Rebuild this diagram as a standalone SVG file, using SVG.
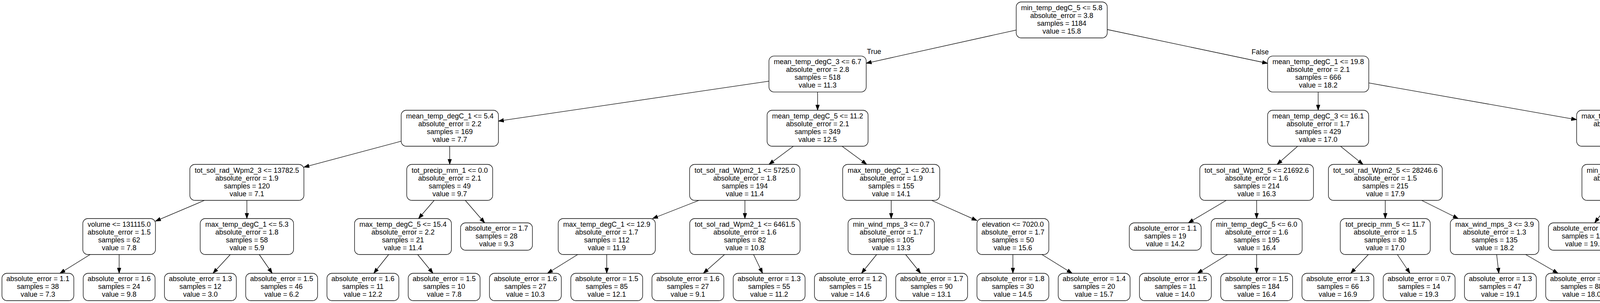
<svg xmlns="http://www.w3.org/2000/svg" width="5095" height="775" viewBox="0 0 5095 775">
<defs>
<style>
.n rect{fill:#fff;stroke:#000;stroke-width:1.33}
text{font-family:"Liberation Sans",Arial,Helvetica,sans-serif;font-size:18px;text-anchor:middle;fill:#000}
.edges line{stroke:#000;stroke-width:1.33;marker-end:url(#ah)}
</style>
<marker id="ah" markerUnits="userSpaceOnUse" viewBox="0 0 15 11" markerWidth="15" markerHeight="11" refX="13.8" refY="5.2" orient="auto"><path d="M0.5,0.5 L13.8,5.2 L0.5,9.9 z" fill="#000" stroke="#000" stroke-width="1"/></marker>
</defs>
<rect x="0" y="0" width="5095" height="775" fill="#fff"/>
<g class="edges" id="edges">
<line x1="2601.5" y1="76.8" x2="2217.5" y2="161.8"/>
<line x1="2834.5" y1="75.5" x2="3245.1" y2="162"/>
<line x1="1968.5" y1="207.6" x2="1276" y2="309.7"/>
<line x1="2093" y1="235.3" x2="2093" y2="282"/>
<line x1="3374.5" y1="235.3" x2="3374.5" y2="282"/>
<line x1="3504.1" y1="212.2" x2="4036.2" y2="306.1"/>
<line x1="1027" y1="361.2" x2="778" y2="427.6"/>
<line x1="1151.3" y1="374" x2="1151.3" y2="420.5"/>
<line x1="2031.1" y1="374" x2="1968.5" y2="420.5"/>
<line x1="2155.6" y1="374" x2="2218.9" y2="420.5"/>
<line x1="3322.1" y1="374" x2="3269.3" y2="420.5"/>
<line x1="3431.6" y1="374" x2="3489.3" y2="420.5"/>
<line x1="4160" y1="374" x2="4160" y2="420.5"/>
<line x1="4281.7" y1="374" x2="4405.5" y2="420.8"/>
<line x1="523.4" y1="512.5" x2="398" y2="565.6"/>
<line x1="632" y1="512.5" x2="632" y2="559"/>
<line x1="1111.5" y1="512.5" x2="1071.4" y2="559"/>
<line x1="1191.1" y1="512.5" x2="1240.8" y2="570"/>
<line x1="1789.3" y1="512.5" x2="1670.6" y2="559"/>
<line x1="1907" y1="512.5" x2="1907" y2="559"/>
<line x1="2281.5" y1="512.5" x2="2281.5" y2="559"/>
<line x1="2384.9" y1="512.5" x2="2501" y2="564.1"/>
<line x1="3139.3" y1="512.5" x2="3042.1" y2="570"/>
<line x1="3217" y1="512.5" x2="3217" y2="559"/>
<line x1="3546.3" y1="512.5" x2="3546.3" y2="559"/>
<line x1="3639.4" y1="512.5" x2="3733.2" y2="559"/>
<line x1="4125.5" y1="512.5" x2="4082.3" y2="570"/>
<line x1="4194.5" y1="512.5" x2="4237.7" y2="570"/>
<line x1="4526.3" y1="512.5" x2="4526.3" y2="559"/>
<line x1="4619.8" y1="512.5" x2="4714" y2="559"/>
<line x1="230.8" y1="651" x2="153.4" y2="699"/>
<line x1="305" y1="651" x2="305" y2="699"/>
<line x1="589.6" y1="651" x2="545.3" y2="699"/>
<line x1="663.7" y1="651" x2="696.9" y2="699"/>
<line x1="995" y1="651" x2="956.8" y2="699"/>
<line x1="1069.2" y1="651" x2="1108.4" y2="699"/>
<line x1="1479" y1="651" x2="1401.5" y2="699"/>
<line x1="1553.3" y1="651" x2="1553.3" y2="699"/>
<line x1="1854.9" y1="651" x2="1800.6" y2="699"/>
<line x1="1929.1" y1="651" x2="1952.2" y2="699"/>
<line x1="2244.2" y1="651" x2="2205.4" y2="699"/>
<line x1="2318.4" y1="651" x2="2356.9" y2="699"/>
<line x1="2593" y1="651" x2="2593" y2="699"/>
<line x1="2667.2" y1="651" x2="2744.6" y2="699"/>
<line x1="3142.8" y1="651" x2="3065.4" y2="699"/>
<line x1="3217" y1="651" x2="3217" y2="699"/>
<line x1="3503" y1="651" x2="3457.9" y2="699"/>
<line x1="3577.2" y1="651" x2="3609.5" y2="699"/>
<line x1="3831.4" y1="651" x2="3837" y2="699"/>
<line x1="3905.6" y1="651" x2="3988.5" y2="699"/>
<line x1="4458.6" y1="651" x2="4388.3" y2="699"/>
<line x1="4532.8" y1="651" x2="4539.8" y2="699"/>
<line x1="4800.8" y1="651" x2="4794" y2="699"/>
<line x1="4874.9" y1="651" x2="4945.5" y2="699"/>
<text x="2237.5" y="138">True</text>
<text x="3226" y="139">False</text>
</g>
<g class="n" id="n0" transform="translate(2718,51)"><rect x="-116.5" y="-46" width="233" height="92" rx="13"/><text y="-25">min_temp_degC_5 &lt;= 5.8</text><text y="-5">absolute_error = 3.8</text><text y="15">samples = 1184</text><text y="35">value = 15.8</text></g>
<g class="n" id="n1" transform="translate(2093,189.3)"><rect x="-124.5" y="-46" width="249" height="92" rx="13"/><text y="-25">mean_temp_degC_3 &lt;= 6.7</text><text y="-5">absolute_error = 2.8</text><text y="15">samples = 518</text><text y="35">value = 11.3</text></g>
<g class="n" id="n2" transform="translate(3374.6,189.3)"><rect x="-129.5" y="-46" width="259" height="92" rx="13"/><text y="-25">mean_temp_degC_1 &lt;= 19.8</text><text y="-5">absolute_error = 2.1</text><text y="15">samples = 666</text><text y="35">value = 18.2</text></g>
<g class="n" id="n3" transform="translate(1151.5,328)"><rect x="-124.5" y="-46" width="249" height="92" rx="13"/><text y="-25">mean_temp_degC_1 &lt;= 5.4</text><text y="-5">absolute_error = 2.2</text><text y="15">samples = 169</text><text y="35">value = 7.7</text></g>
<g class="n" id="n4" transform="translate(2093,328)"><rect x="-129.3" y="-46" width="258.6" height="92" rx="13"/><text y="-25">mean_temp_degC_5 &lt;= 11.2</text><text y="-5">absolute_error = 2.1</text><text y="15">samples = 349</text><text y="35">value = 12.5</text></g>
<g class="n" id="n5" transform="translate(3374.4,328)"><rect x="-129.3" y="-46" width="258.6" height="92" rx="13"/><text y="-25">mean_temp_degC_3 &lt;= 16.1</text><text y="-5">absolute_error = 1.7</text><text y="15">samples = 429</text><text y="35">value = 17.0</text></g>
<g class="n" id="n6" transform="translate(4160,328)"><rect x="-123.8" y="-46" width="247.6" height="92" rx="13"/><text y="-25">max_temp_degC_5 &lt;= 31.0</text><text y="-5">absolute_error = 1.4</text><text y="15">samples = 237</text><text y="35">value = 20.3</text></g>
<g class="n" id="n7" transform="translate(632,466.5)"><rect x="-146" y="-46" width="292" height="92" rx="13"/><text y="-25">tot_sol_rad_Wpm2_3 &lt;= 13782.5</text><text y="-5">absolute_error = 1.9</text><text y="15">samples = 120</text><text y="35">value = 7.1</text></g>
<g class="n" id="n8" transform="translate(1151.3,466.5)"><rect x="-110" y="-46" width="220" height="92" rx="13"/><text y="-25">tot_precip_mm_1 &lt;= 0.0</text><text y="-5">absolute_error = 2.1</text><text y="15">samples = 49</text><text y="35">value = 9.7</text></g>
<g class="n" id="n9" transform="translate(1906.6,466.5)"><rect x="-141.2" y="-46" width="282.4" height="92" rx="13"/><text y="-25">tot_sol_rad_Wpm2_1 &lt;= 5725.0</text><text y="-5">absolute_error = 1.8</text><text y="15">samples = 194</text><text y="35">value = 11.4</text></g>
<g class="n" id="n10" transform="translate(2281.5,466.5)"><rect x="-124.2" y="-46" width="248.4" height="92" rx="13"/><text y="-25">max_temp_degC_1 &lt;= 20.1</text><text y="-5">absolute_error = 1.9</text><text y="15">samples = 155</text><text y="35">value = 14.1</text></g>
<g class="n" id="n11" transform="translate(3217,466.5)"><rect x="-145.5" y="-46" width="291" height="92" rx="13"/><text y="-25">tot_sol_rad_Wpm2_5 &lt;= 21692.6</text><text y="-5">absolute_error = 1.6</text><text y="15">samples = 214</text><text y="35">value = 16.3</text></g>
<g class="n" id="n12" transform="translate(3546.5,466.5)"><rect x="-145.8" y="-46" width="291.6" height="92" rx="13"/><text y="-25">tot_sol_rad_Wpm2_5 &lt;= 28246.6</text><text y="-5">absolute_error = 1.5</text><text y="15">samples = 215</text><text y="35">value = 17.9</text></g>
<g class="n" id="n13" transform="translate(4160,466.5)"><rect x="-110.3" y="-46" width="220.6" height="92" rx="13"/><text y="-25">min_wind_mps_5 &lt;= 1.3</text><text y="-5">absolute_error = 1.3</text><text y="15">samples = 135</text><text y="35">value = 19.8</text></g>
<g class="n" id="n14" transform="translate(4526.5,466.5)"><rect x="-121" y="-46" width="242" height="92" rx="13"/><text y="-25">min_temp_degC_5 &lt;= 16.8</text><text y="-5">absolute_error = 1.3</text><text y="15">samples = 102</text><text y="35">value = 21.0</text></g>
<g class="n" id="n15" transform="translate(305,605)"><rect x="-93" y="-46" width="186" height="92" rx="13"/><text y="-25">volume &lt;= 131115.0</text><text y="-5">absolute_error = 1.5</text><text y="15">samples = 62</text><text y="35">value = 7.8</text></g>
<g class="n" id="n16" transform="translate(632,605)"><rect x="-119.5" y="-46" width="239" height="92" rx="13"/><text y="-25">max_temp_degC_1 &lt;= 5.3</text><text y="-5">absolute_error = 1.8</text><text y="15">samples = 58</text><text y="35">value = 5.9</text></g>
<g class="n" id="n17" transform="translate(1031.6,605)"><rect x="-124" y="-46" width="248" height="92" rx="13"/><text y="-25">max_temp_degC_5 &lt;= 15.4</text><text y="-5">absolute_error = 2.2</text><text y="15">samples = 21</text><text y="35">value = 11.4</text></g>
<g class="n" id="n18" transform="translate(1271,605)"><rect x="-92" y="-35" width="184" height="70" rx="13"/><text y="-15">absolute_error = 1.7</text><text y="5">samples = 28</text><text y="25">value = 9.3</text></g>
<g class="n" id="n19" transform="translate(1553.3,605)"><rect x="-124.3" y="-46" width="248.6" height="92" rx="13"/><text y="-25">max_temp_degC_1 &lt;= 12.9</text><text y="-5">absolute_error = 1.7</text><text y="15">samples = 112</text><text y="35">value = 11.9</text></g>
<g class="n" id="n20" transform="translate(1907,605)"><rect x="-141.3" y="-46" width="282.6" height="92" rx="13"/><text y="-25">tot_sol_rad_Wpm2_1 &lt;= 6461.5</text><text y="-5">absolute_error = 1.6</text><text y="15">samples = 82</text><text y="35">value = 10.8</text></g>
<g class="n" id="n21" transform="translate(2281.5,605)"><rect x="-110.5" y="-46" width="221" height="92" rx="13"/><text y="-25">min_wind_mps_3 &lt;= 0.7</text><text y="-5">absolute_error = 1.7</text><text y="15">samples = 105</text><text y="35">value = 13.3</text></g>
<g class="n" id="n22" transform="translate(2593,605)"><rect x="-92" y="-46" width="184" height="92" rx="13"/><text y="-25">elevation &lt;= 7020.0</text><text y="-5">absolute_error = 1.7</text><text y="15">samples = 50</text><text y="35">value = 15.6</text></g>
<g class="n" id="n23" transform="translate(2983,605)"><rect x="-92" y="-35" width="184" height="70" rx="13"/><text y="-15">absolute_error = 1.1</text><text y="5">samples = 19</text><text y="25">value = 14.2</text></g>
<g class="n" id="n24" transform="translate(3217,605)"><rect x="-116.5" y="-46" width="233" height="92" rx="13"/><text y="-25">min_temp_degC_5 &lt;= 6.0</text><text y="-5">absolute_error = 1.6</text><text y="15">samples = 195</text><text y="35">value = 16.4</text></g>
<g class="n" id="n25" transform="translate(3546.3,605)"><rect x="-115.2" y="-46" width="230.4" height="92" rx="13"/><text y="-25">tot_precip_mm_5 &lt;= 11.7</text><text y="-5">absolute_error = 1.5</text><text y="15">samples = 80</text><text y="35">value = 17.0</text></g>
<g class="n" id="n26" transform="translate(3826.1,605)"><rect x="-113.3" y="-46" width="226.6" height="92" rx="13"/><text y="-25">max_wind_mps_3 &lt;= 3.9</text><text y="-5">absolute_error = 1.3</text><text y="15">samples = 135</text><text y="35">value = 18.2</text></g>
<g class="n" id="n27" transform="translate(4056,605)"><rect x="-92" y="-35" width="184" height="70" rx="13"/><text y="-15">absolute_error = 1.2</text><text y="5">samples = 118</text><text y="25">value = 19.9</text></g>
<g class="n" id="n28" transform="translate(4264,605)"><rect x="-92" y="-35" width="184" height="70" rx="13"/><text y="-15">absolute_error = 1.0</text><text y="5">samples = 17</text><text y="25">value = 18.0</text></g>
<g class="n" id="n29" transform="translate(4526,605)"><rect x="-146" y="-46" width="292" height="92" rx="13"/><text y="-25">tot_sol_rad_Wpm2_5 &lt;= 36376.7</text><text y="-5">absolute_error = 1.3</text><text y="15">samples = 68</text><text y="35">value = 20.8</text></g>
<g class="n" id="n30" transform="translate(4807.3,605)"><rect x="-110.3" y="-46" width="220.6" height="92" rx="13"/><text y="-25">min_wind_mps_1 &lt;= 1.1</text><text y="-5">absolute_error = 1.0</text><text y="15">samples = 34</text><text y="35">value = 21.7</text></g>
<g class="n" id="l1" transform="translate(97,734)"><rect x="-92" y="-35" width="184" height="70" rx="13"/><text y="-15">absolute_error = 1.1</text><text y="5">samples = 38</text><text y="25">value = 7.3</text></g>
<g class="n" id="l2" transform="translate(305,734)"><rect x="-92" y="-35" width="184" height="70" rx="13"/><text y="-15">absolute_error = 1.6</text><text y="5">samples = 24</text><text y="25">value = 9.8</text></g>
<g class="n" id="l3" transform="translate(513,734)"><rect x="-92" y="-35" width="184" height="70" rx="13"/><text y="-15">absolute_error = 1.3</text><text y="5">samples = 12</text><text y="25">value = 3.0</text></g>
<g class="n" id="l4" transform="translate(721,734)"><rect x="-92" y="-35" width="184" height="70" rx="13"/><text y="-15">absolute_error = 1.5</text><text y="5">samples = 46</text><text y="25">value = 6.2</text></g>
<g class="n" id="l5" transform="translate(929,734)"><rect x="-92" y="-35" width="184" height="70" rx="13"/><text y="-15">absolute_error = 1.6</text><text y="5">samples = 11</text><text y="25">value = 12.2</text></g>
<g class="n" id="l6" transform="translate(1137,734)"><rect x="-92" y="-35" width="184" height="70" rx="13"/><text y="-15">absolute_error = 1.5</text><text y="5">samples = 10</text><text y="25">value = 7.8</text></g>
<g class="n" id="l7" transform="translate(1345,734)"><rect x="-92" y="-35" width="184" height="70" rx="13"/><text y="-15">absolute_error = 1.6</text><text y="5">samples = 27</text><text y="25">value = 10.3</text></g>
<g class="n" id="l8" transform="translate(1553.3,734)"><rect x="-92" y="-35" width="184" height="70" rx="13"/><text y="-15">absolute_error = 1.5</text><text y="5">samples = 85</text><text y="25">value = 12.1</text></g>
<g class="n" id="l9" transform="translate(1761,734)"><rect x="-92" y="-35" width="184" height="70" rx="13"/><text y="-15">absolute_error = 1.6</text><text y="5">samples = 27</text><text y="25">value = 9.1</text></g>
<g class="n" id="l10" transform="translate(1969,734)"><rect x="-92" y="-35" width="184" height="70" rx="13"/><text y="-15">absolute_error = 1.3</text><text y="5">samples = 55</text><text y="25">value = 11.2</text></g>
<g class="n" id="l11" transform="translate(2177,734)"><rect x="-92" y="-35" width="184" height="70" rx="13"/><text y="-15">absolute_error = 1.2</text><text y="5">samples = 15</text><text y="25">value = 14.6</text></g>
<g class="n" id="l12" transform="translate(2385,734)"><rect x="-92" y="-35" width="184" height="70" rx="13"/><text y="-15">absolute_error = 1.7</text><text y="5">samples = 90</text><text y="25">value = 13.1</text></g>
<g class="n" id="l13" transform="translate(2593,734)"><rect x="-92" y="-35" width="184" height="70" rx="13"/><text y="-15">absolute_error = 1.8</text><text y="5">samples = 30</text><text y="25">value = 14.5</text></g>
<g class="n" id="l14" transform="translate(2801,734)"><rect x="-92" y="-35" width="184" height="70" rx="13"/><text y="-15">absolute_error = 1.4</text><text y="5">samples = 20</text><text y="25">value = 15.7</text></g>
<g class="n" id="l15" transform="translate(3009,734)"><rect x="-92" y="-35" width="184" height="70" rx="13"/><text y="-15">absolute_error = 1.5</text><text y="5">samples = 11</text><text y="25">value = 14.0</text></g>
<g class="n" id="l16" transform="translate(3217,734)"><rect x="-92" y="-35" width="184" height="70" rx="13"/><text y="-15">absolute_error = 1.5</text><text y="5">samples = 184</text><text y="25">value = 16.4</text></g>
<g class="n" id="l17" transform="translate(3425,734)"><rect x="-92" y="-35" width="184" height="70" rx="13"/><text y="-15">absolute_error = 1.3</text><text y="5">samples = 66</text><text y="25">value = 16.9</text></g>
<g class="n" id="l18" transform="translate(3633,734)"><rect x="-92" y="-35" width="184" height="70" rx="13"/><text y="-15">absolute_error = 0.7</text><text y="5">samples = 14</text><text y="25">value = 19.3</text></g>
<g class="n" id="l19" transform="translate(3841,734)"><rect x="-92" y="-35" width="184" height="70" rx="13"/><text y="-15">absolute_error = 1.3</text><text y="5">samples = 47</text><text y="25">value = 19.1</text></g>
<g class="n" id="l20" transform="translate(4049,734)"><rect x="-92" y="-35" width="184" height="70" rx="13"/><text y="-15">absolute_error = 1.2</text><text y="5">samples = 88</text><text y="25">value = 18.0</text></g>
<g class="n" id="l21" transform="translate(4337,734)"><rect x="-92" y="-35" width="184" height="70" rx="13"/><text y="-15">absolute_error = 1.2</text><text y="5">samples = 52</text><text y="25">value = 20.6</text></g>
<g class="n" id="l22" transform="translate(4545,734)"><rect x="-92" y="-35" width="184" height="70" rx="13"/><text y="-15">absolute_error = 1.2</text><text y="5">samples = 16</text><text y="25">value = 22.6</text></g>
<g class="n" id="l23" transform="translate(4789,734)"><rect x="-92" y="-35" width="184" height="70" rx="13"/><text y="-15">absolute_error = 1.0</text><text y="5">samples = 22</text><text y="25">value = 21.4</text></g>
<g class="n" id="l24" transform="translate(4997,734)"><rect x="-92" y="-35" width="184" height="70" rx="13"/><text y="-15">absolute_error = 0.8</text><text y="5">samples = 12</text><text y="25">value = 22.2</text></g>
</svg>
